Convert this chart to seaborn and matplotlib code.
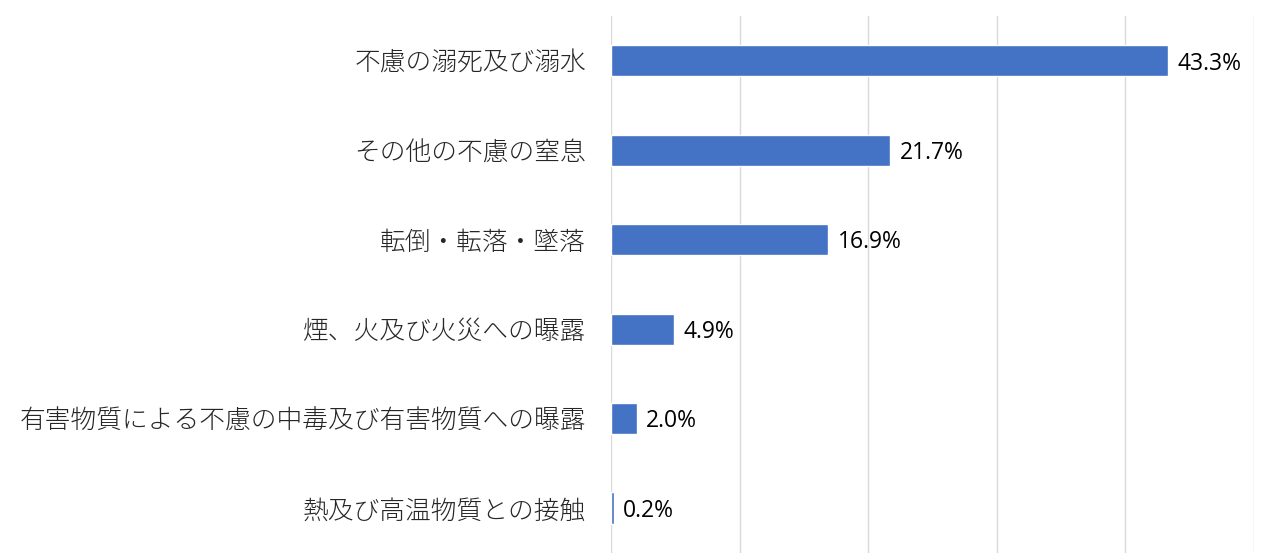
import matplotlib
matplotlib.use("Agg")
import matplotlib.pyplot as plt
import seaborn as sns
import pandas as pd

# データ
categories = [
    "不慮の溺死及び溺水",
    "その他の不慮の窒息",
    "転倒・転落・墜落",
    "煙、火及び火災への曝露",
    "有害物質による不慮の中毒及び有害物質への曝露",
    "熱及び高温物質との接触",
]
values = [43.3, 21.7, 16.9, 4.9, 2.0, 0.2]

df = pd.DataFrame({"category": categories, "value": values})

sns.set_theme(style="white")
plt.rcParams["font.family"] = ["Noto Sans CJK JP", "DejaVu Sans"]

fig = plt.figure(figsize=(12.69, 5.55), dpi=100)
ax = fig.add_axes([0.4815, 0.004, 0.5065, 0.967])

sns.barplot(data=df, y="category", x="value", color="#4472C4",
            width=0.35, saturation=1, ax=ax)

ax.set_xlim(0, 50)
ax.set_xticks([0, 10, 20, 30, 40, 50])
ax.xaxis.grid(True, color="#D9D9D9", linewidth=1)
ax.set_axisbelow(True)
ax.tick_params(axis="x", labelbottom=False, length=0)
ax.tick_params(axis="y", length=0, pad=18, labelsize=18.5, labelcolor="#262626")
for lbl in ax.get_yticklabels():
    lbl.set_fontweight("light")
ax.set_xlabel("")
ax.set_ylabel("")
for s in ax.spines.values():
    s.set_visible(False)

# 値ラベル
for i, v in enumerate(values):
    ax.text(v + 0.75, i + 0.03, f"{v:.1f}%", va="center", ha="left",
            fontsize=16.5, color="#000000", family=["Open Sans", "DejaVu Sans"])

plt.savefig("out.png", dpi=100)
plt.close()
